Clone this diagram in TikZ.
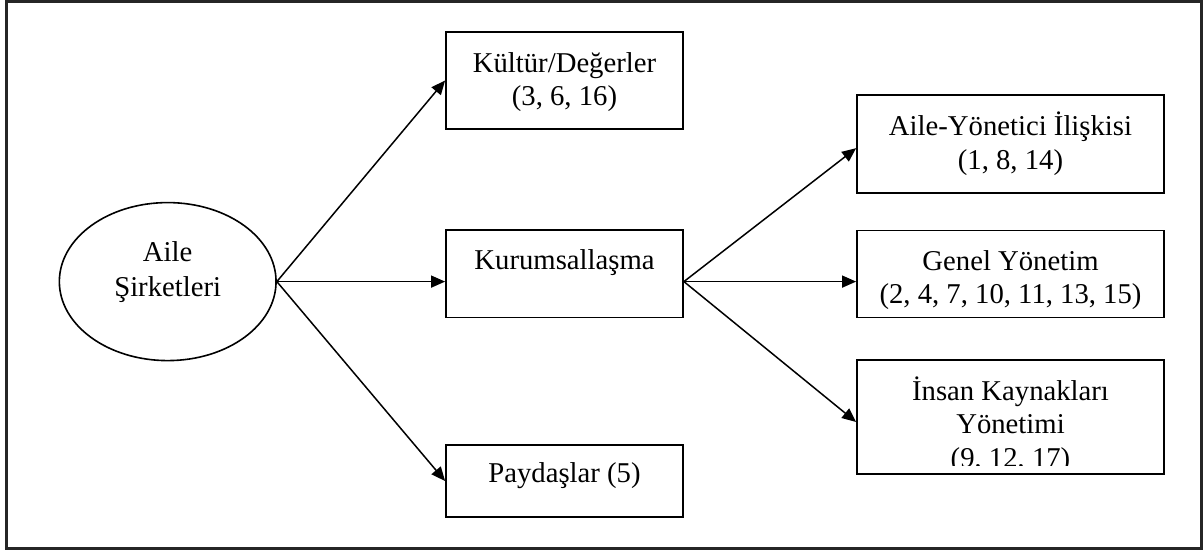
\documentclass[tikz,border=0pt]{standalone}
\usepackage{fontspec}
\setmainfont{Liberation Serif}
\usetikzlibrary{shapes.geometric,arrows.meta,calc}
\begin{document}
\begin{tikzpicture}[x=0.5pt,y=-0.5pt,
  boxnode/.style={draw=black, line width=0.9pt, rectangle, inner sep=0pt, minimum width=118.5pt},
  ellnode/.style={draw=black, line width=0.8pt, ellipse, inner sep=0pt},
  txt/.style={inner sep=0pt, align=center, font=\fontsize{14.35}{16.85}\selectfont},
  arr/.style={draw=black, line width=0.75pt, -{Triangle[length=7pt,width=6pt]}}]
\useasboundingbox (0,0) rectangle (1203,550);
% outer frame
\draw[black!85, line width=1.2pt] (6.5,1.5) rectangle (1201.5,548.5);

% ellipse
\node[ellnode, minimum width=108.35pt, minimum height=79pt] (aile) at (167.7,281.6) {};
\node[txt] (aileT) at (167.7,272) {Aile\\[0.8pt]Şirketleri};

% middle column
\node[boxnode, minimum height=48.5pt] (kultur) at (564.5,80.5) {};
\node[txt] (kulturT) at (564.5,82) {Kültür/Değerler\\(3, 6, 16)};

\node[boxnode, minimum height=43.75pt] (kurum) at (564.5,273.75) {};
\node[txt] (kurumT) at (564.5,262.4) {Kurumsallaşma};

\node[boxnode, minimum height=36pt] (payd) at (564.5,481) {};
\node[txt] (paydT) at (564.5,476) {Paydaşlar (5)};

% right column
\node[boxnode, minimum width=153.5pt, minimum height=48.8pt] (ay) at (1010.5,144.2) {};
\node[txt] (ayT) at (1010.5,143.5) {Aile-Yönetici İlişkisi\\(1, 8, 14)};

\node[boxnode, minimum width=153.5pt, minimum height=43.5pt] (genel) at (1010.5,274) {};
\node[txt] (genelT) at (1010.5,280) {Genel Yönetim\\(2, 4, 7, 10, 11, 13, 15)};

\node[boxnode, minimum width=153.5pt, minimum height=57pt] (ik) at (1010.5,417) {};
\begin{scope}
  \clip (857,360) rectangle (1164,465);
  \node[txt] (ikT) at (1010.5,425) {İnsan Kaynakları\\Yönetimi\\(9, 12, 17)};
\end{scope}

% connectors
\coordinate (ko) at (kurum.east |- aile.east);
\draw[arr] (aile.east) -- (kultur.west);
\draw[arr] (aile.east) -- (kurum.west |- aile.east);
\draw[arr] (aile.east) -- (payd.west);
\draw[arr] (ko) -- ($(ay.west)+(0,4)$);
\draw[arr] (ko) -- (genel.west |- ko);
\draw[arr] (ko) -- ($(ik.west)+(0,5)$);
\end{tikzpicture}
\end{document}
